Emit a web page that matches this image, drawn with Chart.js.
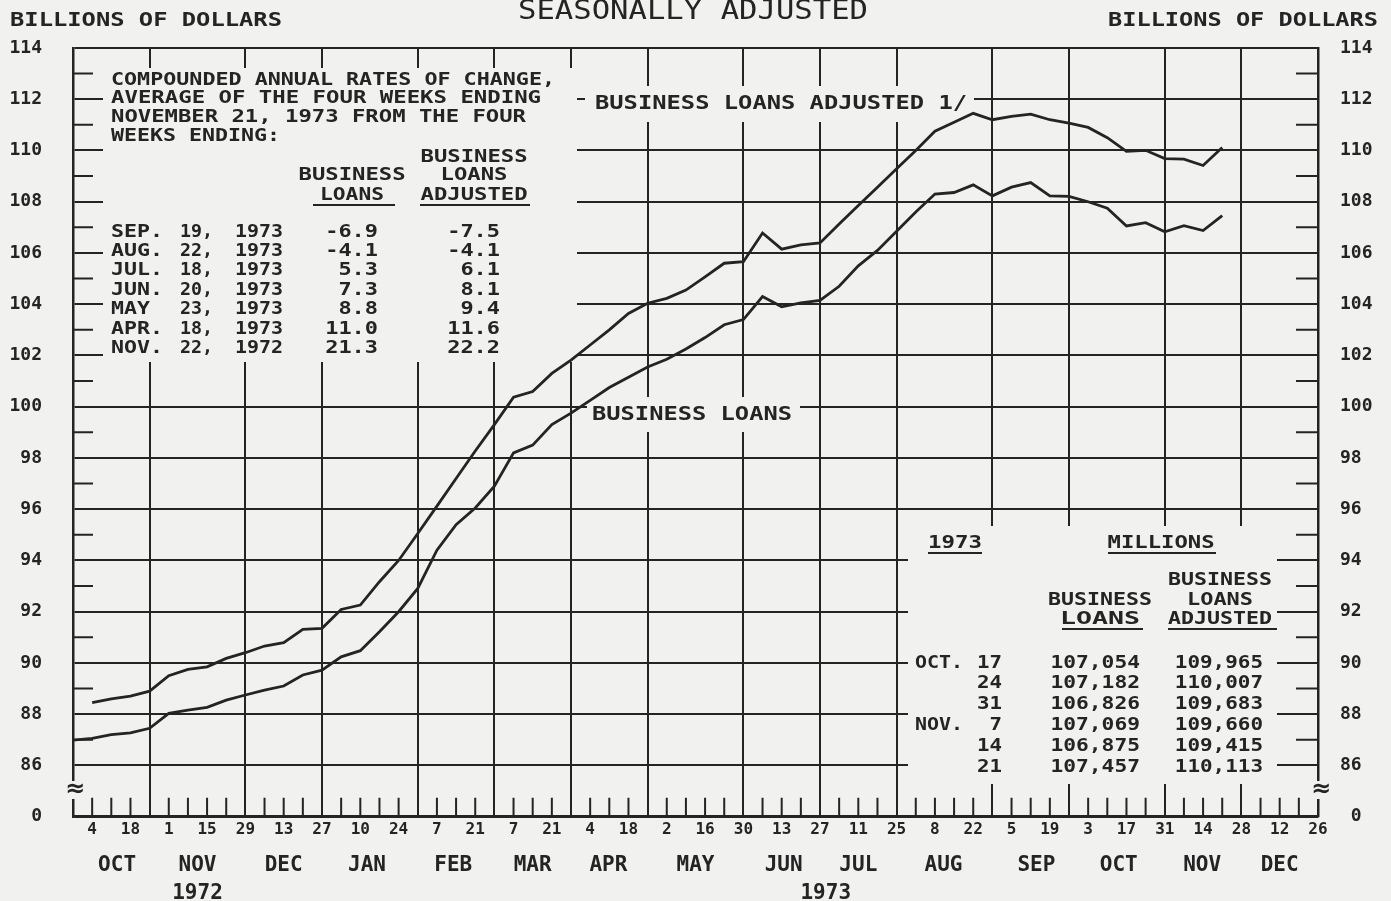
<!DOCTYPE html>
<html>
<head>
<meta charset="utf-8">
<title>Business loans, seasonally adjusted</title>
<script src="https://cdn.jsdelivr.net/npm/chart.js@4/dist/chart.umd.min.js"></script>
<style>
  html, body { margin: 0; padding: 0; background: #f1f1ef; }
  #wrap { width: 1391px; height: 901px; }
</style>
</head>
<body>
<div id="wrap"><canvas id="loans" width="1391" height="901"></canvas></div>
<script>
// weekly figures (Wednesdays), billions of dollars
// week 0 = Oct 4 1972, week 64 = Dec 26 1973
const loansFirstWeek = -1;     // Sep 27 1972
const businessLoans = [
  86.99, 87.06, 87.20, 87.27, 87.45, 88.03, 88.16, 88.27, 88.55, 88.75,
  88.94, 89.10, 89.53, 89.72, 90.24, 90.48, 91.22, 92.00, 92.91, 94.40,
  95.40, 96.05, 96.90, 98.20, 98.50, 99.30, 99.75, 100.25, 100.75, 101.15,
  101.55, 101.85, 102.25, 102.70, 103.20, 103.40, 104.30, 103.90, 104.05, 104.15,
  104.70, 105.50, 106.10, 106.85, 107.60, 108.30, 108.36, 108.66, 108.23, 108.57,
  108.75, 108.23, 108.21, 108.00, 107.75, 107.054, 107.182, 106.826, 107.069, 106.875,
  107.457
];
const adjustedFirstWeek = 0;   // Oct 4 1972
const businessLoansAdjusted = [
  88.45, 88.60, 88.71, 88.90, 89.50, 89.75, 89.85, 90.18, 90.40, 90.66,
  90.79, 91.31, 91.35, 92.09, 92.26, 93.17, 94.00, 95.05, 96.12, 97.20,
  98.27, 99.30, 100.37, 100.59, 101.30, 101.82, 102.41, 103.00, 103.64, 104.04,
  104.23, 104.55, 105.07, 105.60, 105.66, 106.78, 106.15, 106.32, 106.39, 107.13,
  107.85, 108.57, 109.29, 110.00, 110.75, 111.10, 111.45, 111.20, 111.33, 111.42,
  111.20, 111.07, 110.90, 110.50, 109.965, 110.007, 109.683, 109.660, 109.415, 110.113
];

// x axis
const dayLabels = ['4','18','1','15','29','13','27','10','24','7','21','7','21','4','18','2','16',
  '30','13','27','11','25','8','22','5','19','3','17','31','14','28','12','26'];
const monthLabels = ['OCT','NOV','DEC','JAN','FEB','MAR','APR','MAY','JUN','JUL','AUG','SEP','OCT','NOV','DEC'];
const monthPos = [1.3, 5.5, 10.0, 14.35, 18.85, 23.0, 26.95, 31.5, 36.1, 40.0, 44.45, 49.3, 53.6, 57.95, 62.0];
const yearLabels = ['1972', '1973'];
const yearPos = [5.5, 38.3];
const monthEndWeeks = [-1, 3, 8, 12, 17, 21, 25, 29, 34, 38, 42, 47, 51, 56, 60, 64];

// y axis
const yTicks = [84, 86, 88, 90, 92, 94, 96, 98, 100, 102, 104, 106, 108, 110, 112, 114];
const yMinorTicks = [87, 89, 91, 93, 95, 97, 99, 101, 103, 105, 107, 109, 111, 113];

// inset: rates of change
const rateMonths = ['SEP.', 'AUG.', 'JUL.', 'JUN.', 'MAY', 'APR.', 'NOV.'];
const rateDays = ['19,', '22,', '18,', '20,', '23,', '18,', '22,'];
const rateYears = ['1973', '1973', '1973', '1973', '1973', '1973', '1972'];
const rateLoans = ['-6.9', '-4.1', '5.3', '7.3', '8.8', '11.0', '21.3'];
const rateAdjusted = ['-7.5', '-4.1', '6.1', '8.1', '9.4', '11.6', '22.2'];

// inset: latest weeks, millions
const recentMonths = ['OCT.', '', '', 'NOV.', '', ''];
const recentDays = ['17', '24', '31', '7', '14', '21'];
const recentLoans = ['107,054', '107,182', '106,826', '107,069', '106,875', '107,457'];
const recentAdjusted = ['109,965', '110,007', '109,683', '109,660', '109,415', '110,113'];

const INK = '#242424';
const PAPER = '#f1f1ef';
const MONO = '"DejaVu Sans Mono", monospace';

function toPoints(values, firstWeek) {
  return values.map((v, i) => ({ x: firstWeek + i, y: v }));
}

// draw monospaced lettering stretched to a given advance per character
function letter(ctx, str, x, y, opt) {
  const size = opt.size || 20;
  ctx.save();
  ctx.font = (opt.weight || 'bold') + ' ' + size + 'px ' + MONO;
  ctx.textBaseline = 'middle';
  ctx.textAlign = 'left';
  ctx.fillStyle = INK;
  const natural = ctx.measureText(str).width;
  const w = opt.w || str.length * (opt.adv || 13);
  let left = x;
  if (opt.align === 'center') left = x - w / 2;
  if (opt.align === 'right') left = x - w;
  ctx.translate(left, y);
  ctx.scale(w / natural, 1);
  ctx.fillText(str, 0, 0);
  ctx.restore();
}

function underline(ctx, x1, x2, y) {
  ctx.save();
  ctx.strokeStyle = INK;
  ctx.lineWidth = 2;
  ctx.beginPath();
  ctx.moveTo(x1, y);
  ctx.lineTo(x2, y);
  ctx.stroke();
  ctx.restore();
}

// blank areas behind the lettering, minor ticks, axis breaks
const chartDecor = {
  id: 'chartDecor',
  beforeDraw(chart) {
    const ctx = chart.ctx;
    ctx.save();
    ctx.fillStyle = PAPER;
    ctx.fillRect(0, 0, chart.width, chart.height);
    ctx.restore();
  },
  beforeDatasetsDraw(chart) {
    const ctx = chart.ctx;
    const { left, right, bottom } = chart.chartArea;
    const xs = chart.scales.x, ys = chart.scales.y;
    ctx.save();
    ctx.fillStyle = PAPER;
    ctx.fillRect(103, 68, 474, 294);    // rates table
    ctx.fillRect(585, 86, 389, 36);     // adjusted label
    ctx.fillRect(587, 397, 213, 35);    // loans label
    ctx.fillRect(908, 526, 369, 258);   // millions table
    ctx.fillRect(left - 4, 781, 8, 18); // axis breaks
    ctx.fillRect(right - 4, 781, 8, 18);

    ctx.strokeStyle = INK;
    ctx.lineWidth = 2;
    ctx.beginPath();
    yMinorTicks.forEach(v => {
      const py = ys.getPixelForValue(v);
      ctx.moveTo(left, py); ctx.lineTo(left + 20, py);
      ctx.moveTo(right, py); ctx.lineTo(right - 22, py);
    });
    for (let w = 0; w < 64; w++) {
      if (monthEndWeeks.includes(w)) continue;
      const px = xs.getPixelForValue(w);
      ctx.moveTo(px, bottom); ctx.lineTo(px, bottom - 19);
    }
    ctx.stroke();

    ctx.fillStyle = INK;
    ctx.font = 'bold 24px "DejaVu Sans"';
    ctx.textAlign = 'center';
    ctx.textBaseline = 'middle';
    ctx.fillText('\u2248', left + 2, 790);
    ctx.fillText('\u2248', right + 3, 790);
    ctx.restore();
  },
  afterDraw(chart) {
    const ctx = chart.ctx;
    // headings
    letter(ctx, 'SEASONALLY ADJUSTED', 693, 12, { size: 27, weight: 'normal', w: 350, align: 'center' });
    letter(ctx, 'BILLIONS OF DOLLARS', 10, 21, { size: 20, w: 272 });
    letter(ctx, 'BILLIONS OF DOLLARS', 1378, 21, { size: 20, w: 270, align: 'right' });

    // line labels
    letter(ctx, 'BUSINESS LOANS ADJUSTED 1/', 595, 104, { size: 19, w: 372 });
    letter(ctx, 'BUSINESS LOANS', 592, 415, { size: 19, w: 200 });

    // rates of change table
    letter(ctx, 'COMPOUNDED ANNUAL RATES OF CHANGE,', 111, 80, { size: 18, w: 444 });
    letter(ctx, 'AVERAGE OF THE FOUR WEEKS ENDING', 111, 98.5, { size: 18, w: 430 });
    letter(ctx, 'NOVEMBER 21, 1973 FROM THE FOUR', 111, 117, { size: 18, w: 415 });
    letter(ctx, 'WEEKS ENDING:', 111, 136.5, { size: 18, w: 169 });
    letter(ctx, 'BUSINESS', 474, 157, { size: 18, w: 107, align: 'center' });
    letter(ctx, 'BUSINESS', 352, 175, { size: 18, w: 107, align: 'center' });
    letter(ctx, 'LOANS', 474, 175, { size: 18, w: 67, align: 'center' });
    letter(ctx, 'LOANS', 352, 195, { size: 18, w: 64, align: 'center' });
    letter(ctx, 'ADJUSTED', 474, 195, { size: 18, w: 107, align: 'center' });
    underline(ctx, 313, 395, 205);
    underline(ctx, 420, 530, 205);
    rateMonths.forEach((m, i) => {
      const y = 232 + i * 19.4;
      letter(ctx, m, 111, y, { size: 18, adv: 13 });
      letter(ctx, rateDays[i], 180, y, { size: 18, adv: 11 });
      letter(ctx, rateYears[i], 235, y, { size: 18, w: 48 });
      letter(ctx, rateLoans[i], 378, y, { size: 18, adv: 13.2, align: 'right' });
      letter(ctx, rateAdjusted[i], 500, y, { size: 18, adv: 13.2, align: 'right' });
    });

    // latest weeks table
    letter(ctx, '1973', 955, 543, { size: 18, w: 54, align: 'center' });
    letter(ctx, 'MILLIONS', 1161, 543, { size: 18, w: 107, align: 'center' });
    underline(ctx, 928, 982, 553);
    underline(ctx, 1108, 1216, 553);
    letter(ctx, 'BUSINESS', 1220, 580, { size: 18, w: 104, align: 'center' });
    letter(ctx, 'BUSINESS', 1100, 600, { size: 18, w: 104, align: 'center' });
    letter(ctx, 'LOANS', 1220, 600, { size: 18, w: 66, align: 'center' });
    letter(ctx, 'LOANS', 1100, 619, { size: 18, w: 80, align: 'center' });
    letter(ctx, 'ADJUSTED', 1220, 619, { size: 18, w: 104, align: 'center' });
    underline(ctx, 1062, 1143, 629);
    underline(ctx, 1168, 1277, 629);
    recentDays.forEach((d, i) => {
      const y = 663 + i * 20.8;
      if (recentMonths[i]) letter(ctx, recentMonths[i], 915, y, { size: 18, w: 48 });
      letter(ctx, d, 1002, y, { size: 18, adv: 12.5, align: 'right' });
      letter(ctx, recentLoans[i], 1140, y, { size: 18, adv: 12.8, align: 'right' });
      letter(ctx, recentAdjusted[i], 1263, y, { size: 18, adv: 12.6, align: 'right' });
    });
  }
};

const tickFont = { family: MONO, size: 18, weight: 'bold' };
const lineDataset = (label, values, firstWeek) => ({
  label: label,
  data: toPoints(values, firstWeek),
  borderColor: INK,
  borderWidth: 2.8,
  pointRadius: 0,
  tension: 0,
  fill: false,
  spanGaps: false
});

new Chart(document.getElementById('loans'), {
  type: 'line',
  data: {
    datasets: [
      lineDataset('Business loans adjusted', businessLoansAdjusted, adjustedFirstWeek),
      lineDataset('Business loans', businessLoans, loansFirstWeek)
    ]
  },
  options: {
    responsive: false,
    animation: false,
    devicePixelRatio: 1,
    events: [],
    layout: { padding: { top: 48, left: 0, right: 0, bottom: 0 } },
    plugins: { legend: { display: false }, tooltip: { enabled: false }, title: { display: false } },
    scales: {
      x: {
        type: 'linear', position: 'bottom', min: -1, max: 64, weight: 0,
        afterBuildTicks: s => { s.ticks = []; for (let w = -1; w <= 64; w++) s.ticks.push({ value: w }); },
        afterFit: s => { s.height = 28; },
        ticks: {
          autoSkip: false, maxRotation: 0, padding: 4, color: INK,
          font: { family: MONO, size: 16, weight: 'bold' },
          callback: v => (v >= 0 && v % 2 === 0) ? dayLabels[v / 2] : ''
        },
        grid: {
          drawTicks: false, lineWidth: 2,
          color: c => (c.tick && monthEndWeeks.includes(c.tick.value)) ? INK : 'rgba(0,0,0,0)'
        },
        border: { display: true, color: INK, width: 2.5 }
      },
      xMonth: {
        type: 'linear', position: 'bottom', min: -1, max: 64, weight: 1,
        afterBuildTicks: s => { s.ticks = monthPos.map(v => ({ value: v })); },
        afterFit: s => { s.height = 28; },
        ticks: {
          autoSkip: false, maxRotation: 0, padding: 0, color: INK,
          font: { family: MONO, size: 21, weight: 'bold' },
          callback: (v, i) => monthLabels[i]
        },
        grid: { display: false },
        border: { display: false }
      },
      xYear: {
        type: 'linear', position: 'bottom', min: -1, max: 64, weight: 2,
        afterBuildTicks: s => { s.ticks = yearPos.map(v => ({ value: v })); },
        afterFit: s => { s.height = 28.3; },
        ticks: {
          autoSkip: false, maxRotation: 0, padding: 0, color: INK,
          font: { family: MONO, size: 21, weight: 'bold' },
          callback: (v, i) => yearLabels[i]
        },
        grid: { display: false },
        border: { display: false }
      },
      y: {
        type: 'linear', position: 'left', min: 84, max: 114,
        afterBuildTicks: s => { s.ticks = yTicks.map(v => ({ value: v })); },
        afterFit: s => { s.width = 73; },
        ticks: { padding: 31, color: INK, font: tickFont, callback: v => v === 84 ? '0' : String(v) },
        grid: { drawTicks: false, lineWidth: 2, color: INK },
        border: { display: true, color: INK, width: 2.5 }
      },
      yRight: {
        type: 'linear', position: 'right', min: 84, max: 114,
        afterBuildTicks: s => { s.ticks = yTicks.map(v => ({ value: v })); },
        afterFit: s => { s.width = 73; },
        ticks: { padding: 22, color: INK, font: tickFont, callback: v => v === 84 ? ' 0' : String(v) },
        grid: { drawOnChartArea: false, drawTicks: false },
        border: { display: true, color: INK, width: 2.5 }
      }
    }
  },
  plugins: [chartDecor]
});
</script>
</body>
</html>
